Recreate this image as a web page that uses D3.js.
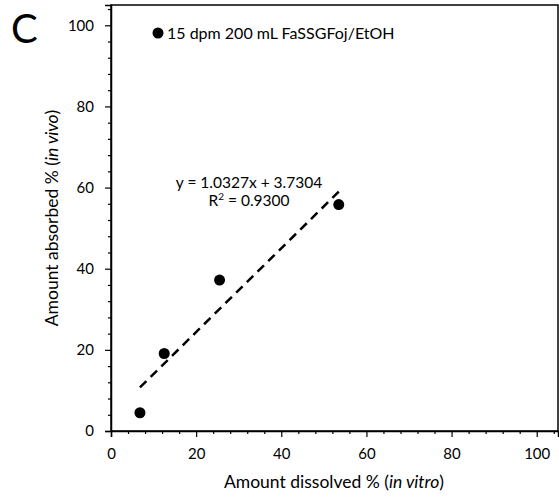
<!DOCTYPE html>
<html>
<head>
<meta charset="utf-8">
<script src="https://cdn.jsdelivr.net/npm/d3@7"></script>
<style>
  body { margin: 0; background: #fff; }
  text { font-family: Lato, "Open Sans", sans-serif; fill: #000; }
</style>
</head>
<body>
<div id="chart"></div>
<script>
// in vitro dissolved vs in vivo absorbed
const dissolved = [6.8, 12.5, 25.5, 53.5];
const absorbed = [4.5, 19.1, 37.2, 55.8];
const fitSlope = 1.0327;
const fitIntercept = 3.7304;
const fitR2 = 0.9300;
const seriesLabel = "15 dpm 200 mL FaSSGFoj/EtOH";
const majorTicks = [0, 20, 40, 60, 80, 100];

const width = 559, height = 497;
const margin = { top: 5, right: 1, bottom: 66, left: 111 };

const svg = d3.select("#chart").append("svg")
    .attr("width", width)
    .attr("height", height);

const x = d3.scaleLinear().domain([0, 105]).range([margin.left, width - margin.right]);
const y = d3.scaleLinear().domain([0, 105]).range([height - margin.bottom, margin.top]);

const minorTicks = d3.range(0, 105, 4).filter(v => v % 20 !== 0);

// frame
svg.append("rect")
    .attr("x", x(0)).attr("y", y(105))
    .attr("width", x(105) - x(0)).attr("height", y(0) - y(105))
    .attr("fill", "none").attr("stroke", "#000").attr("stroke-width", 1.5);

// axes: minor ticks first, then majors with labels
svg.append("g")
    .attr("transform", `translate(0,${y(0)})`)
    .call(d3.axisBottom(x).tickValues(minorTicks).tickSize(3).tickFormat(""))
    .call(g => g.select(".domain").remove());
svg.append("g")
    .attr("transform", `translate(${x(0)},0)`)
    .call(d3.axisLeft(y).tickValues(minorTicks).tickSize(3).tickFormat(""))
    .call(g => g.select(".domain").remove());

svg.append("g")
    .attr("transform", `translate(0,${y(0)})`)
    .call(d3.axisBottom(x).tickValues(majorTicks).tickSize(6).tickPadding(11))
    .call(g => g.select(".domain").attr("stroke-width", 1.5))
    .call(g => g.selectAll("text").style("font-size", "15px"));
svg.append("g")
    .attr("transform", `translate(${x(0)},0)`)
    .call(d3.axisLeft(y).tickValues(majorTicks).tickSize(6).tickPadding(11))
    .call(g => g.select(".domain").attr("stroke-width", 1.5))
    .call(g => g.selectAll("text").style("font-size", "15px"));

svg.selectAll(".tick line").attr("stroke", "#000").attr("stroke-width", 1.2);

// regression line over the data range
const xs = d3.extent(dissolved);
svg.append("line")
    .attr("x1", x(xs[0])).attr("y1", y(fitSlope * xs[0] + fitIntercept))
    .attr("x2", x(xs[1])).attr("y2", y(fitSlope * xs[1] + fitIntercept))
    .attr("stroke", "#000").attr("stroke-width", 2.5)
    .attr("stroke-dasharray", "9,6");

// points
svg.selectAll(".pt")
    .data(dissolved.map((d, i) => [d, absorbed[i]]))
    .join("circle")
    .attr("class", "pt")
    .attr("cx", d => x(d[0])).attr("cy", d => y(d[1]))
    .attr("r", 5.5).attr("fill", "#000");

// equation, two separate lines
const eqX = 249;
svg.append("text")
    .attr("x", eqX).attr("y", 188)
    .attr("text-anchor", "middle")
    .style("font-size", "15.5px")
    .text(`y = ${fitSlope.toFixed(4)}x + ${fitIntercept.toFixed(4)}`);
const r2 = svg.append("text")
    .attr("x", eqX).attr("y", 206)
    .attr("text-anchor", "middle")
    .style("font-size", "15.5px");
r2.append("tspan").text("R");
r2.append("tspan").attr("dy", -6).style("font-size", "10px").text("2");
r2.append("tspan").attr("dy", 6).text(` = ${fitR2.toFixed(4)}`);

// legend
svg.append("circle").attr("cx", 158).attr("cy", 33).attr("r", 5.5).attr("fill", "#000");
svg.append("text").attr("x", 167).attr("y", 38.5).style("font-size", "16px").text(seriesLabel);

// panel letter
svg.append("text").attr("x", 11).attr("y", 43).style("font-size", "40px").text("C");

// axis titles
const xt = svg.append("text")
    .attr("x", 334).attr("y", 488)
    .attr("text-anchor", "middle").style("font-size", "17.5px");
xt.append("tspan").text("Amount dissolved % (");
xt.append("tspan").style("font-style", "italic").text("in vitro");
xt.append("tspan").text(")");

const yt = svg.append("text")
    .attr("transform", `translate(58,${(y(0) + y(105)) / 2}) rotate(-90)`)
    .attr("text-anchor", "middle").style("font-size", "17.5px");
yt.append("tspan").text("Amount absorbed % (");
yt.append("tspan").style("font-style", "italic").text("in vivo");
yt.append("tspan").text(")");
</script>
</body>
</html>
